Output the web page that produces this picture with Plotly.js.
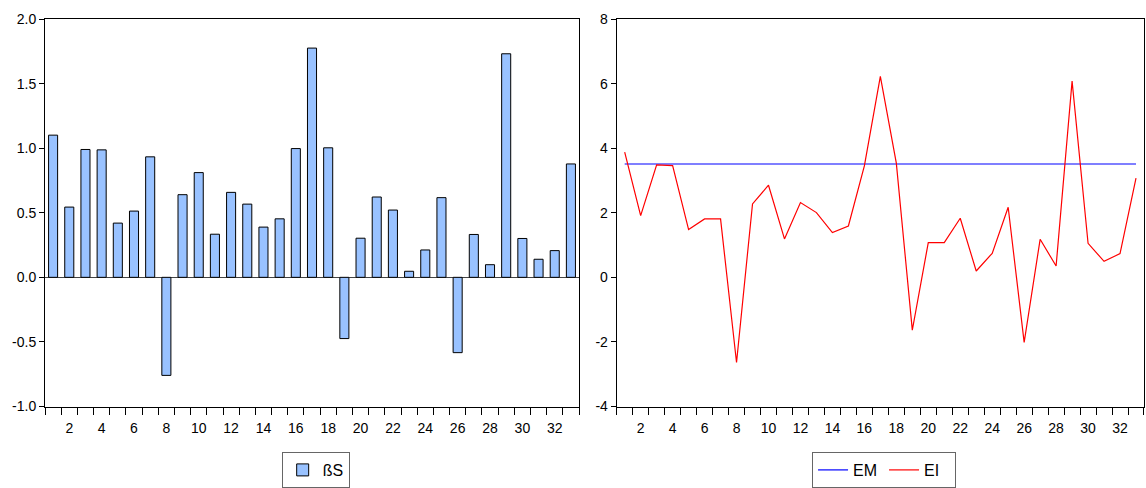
<!DOCTYPE html>
<html>
<head>
<meta charset="utf-8">
<script src="https://cdn.plot.ly/plotly-3.0.1.min.js"></script>
<style>html,body{margin:0;padding:0;background:#fff;}#chart{width:1146px;height:488px;}</style>
</head>
<body>
<div id="chart"></div>
<script>
const categories = Array.from({length: 33}, (_, i) => i + 1);
const betaS = [1.101, 0.544, 0.990, 0.987, 0.420, 0.513, 0.933, -0.759, 0.640, 0.811,
  0.334, 0.658, 0.567, 0.389, 0.453, 0.997, 1.775, 1.003, -0.474, 0.303,
  0.622, 0.521, 0.047, 0.212, 0.617, -0.583, 0.332, 0.098, 1.731, 0.301,
  0.140, 0.207, 0.878];
const EM = [3.51, 3.51, 3.51, 3.51, 3.51, 3.51, 3.51, 3.51, 3.51, 3.51,
  3.51, 3.51, 3.51, 3.51, 3.51, 3.51, 3.51, 3.51, 3.51, 3.51,
  3.51, 3.51, 3.51, 3.51, 3.51, 3.51, 3.51, 3.51, 3.51, 3.51,
  3.51, 3.51, 3.51];
const EI = [3.876, 1.912, 3.483, 3.463, 1.478, 1.809, 1.809, -2.636, 2.274, 2.853,
  1.189, 2.315, 2.005, 1.385, 1.592, 3.45, 6.222, 3.535, -1.633, 1.075,
  1.075, 1.829, 0.196, 0.744, 2.171, -2.016, 1.178, 0.351, 6.078, 1.054,
  0.496, 0.734, 3.070];
const xTickVals = [2, 4, 6, 8, 10, 12, 14, 16, 18, 20, 22, 24, 26, 28, 30, 32];
const xTickText = ['2', '4', '6', '8', '10', '12', '14', '16', '18', '20', '22', '24', '26', '28', '30', '32'];
const yLeftTicks = [-1.0, -0.5, 0.0, 0.5, 1.0, 1.5, 2.0];
const yLeftText = ['-1.0', '-0.5', '0.0', '0.5', '1.0', '1.5', '2.0'];
const yRightTicks = [-4, -2, 0, 2, 4, 6, 8];
const yRightText = ['-4', '-2', '0', '2', '4', '6', '8'];

const font = {family: 'Liberation Sans, Arial, sans-serif', size: 14, color: '#000'};
const legendFont = {family: 'Liberation Sans, Arial, sans-serif', size: 16, color: '#000'};

const traces = [
  {type: 'bar', x: categories, y: betaS, name: 'ßS', xaxis: 'x', yaxis: 'y',
   width: 0.56, marker: {color: '#99c2ff', line: {color: '#000', width: 1}},
   legend: 'legend'},
  {type: 'scatter', mode: 'lines', x: categories, y: EM, name: 'EM', xaxis: 'x2', yaxis: 'y2',
   line: {color: '#0000ff', width: 1.2}, legend: 'legend2'},
  {type: 'scatter', mode: 'lines', x: categories, y: EI, name: 'EI', xaxis: 'x2', yaxis: 'y2',
   line: {color: '#ff0000', width: 1.2}, legend: 'legend2'}
];

const xCommon = {
  range: [0.5, 33.5], tickmode: 'array', tickvals: xTickVals, ticktext: xTickText,
  ticks: '', showgrid: false, zeroline: false, showline: true, mirror: true,
  linecolor: '#000', linewidth: 1, tickfont: font, fixedrange: true,
  minor: {tick0: 0.5, dtick: 1, ticks: 'outside', ticklen: 7, tickcolor: '#000', tickwidth: 1, showgrid: false},
  ticklabelstandoff: 9
};

const layout = {
  width: 1146, height: 488,
  margin: {l: 0, r: 0, t: 0, b: 0},
  paper_bgcolor: '#fff', plot_bgcolor: '#fff',
  font: font,
  showlegend: true,
  xaxis: Object.assign({}, xCommon, {domain: [0.03927, 0.50524], anchor: 'y'}),
  yaxis: {domain: [0.167, 0.961], range: [-1.0, 2.0], anchor: 'x', tickmode: 'array',
    tickvals: yLeftTicks, ticktext: yLeftText, ticks: 'outside', ticklen: 5, tickcolor: '#000',
    showgrid: false, zeroline: true, zerolinecolor: '#444', zerolinewidth: 1,
    showline: true, mirror: true, linecolor: '#000', linewidth: 1, tickfont: font},
  xaxis2: Object.assign({}, xCommon, {domain: [0.53813, 0.99825], anchor: 'y2'}),
  yaxis2: {domain: [0.167, 0.961], range: [-4, 8], anchor: 'x2', tickmode: 'array',
    tickvals: yRightTicks, ticktext: yRightText, ticks: 'outside', ticklen: 5, tickcolor: '#000',
    showgrid: false, zeroline: false,
    showline: true, mirror: true, linecolor: '#000', linewidth: 1, tickfont: font},
  legend: {x: 0.2458, y: 0, xanchor: 'left', yanchor: 'bottom', orientation: 'h',
    bordercolor: '#666', borderwidth: 1, bgcolor: '#fff', font: legendFont},
  legend2: {x: 0.7086, y: 0, xanchor: 'left', yanchor: 'bottom', orientation: 'h',
    entrywidth: 26, bordercolor: '#666', borderwidth: 1, bgcolor: '#fff', font: legendFont}
};

Plotly.newPlot('chart', traces, layout, {displayModeBar: false, staticPlot: true});
</script>
</body>
</html>
